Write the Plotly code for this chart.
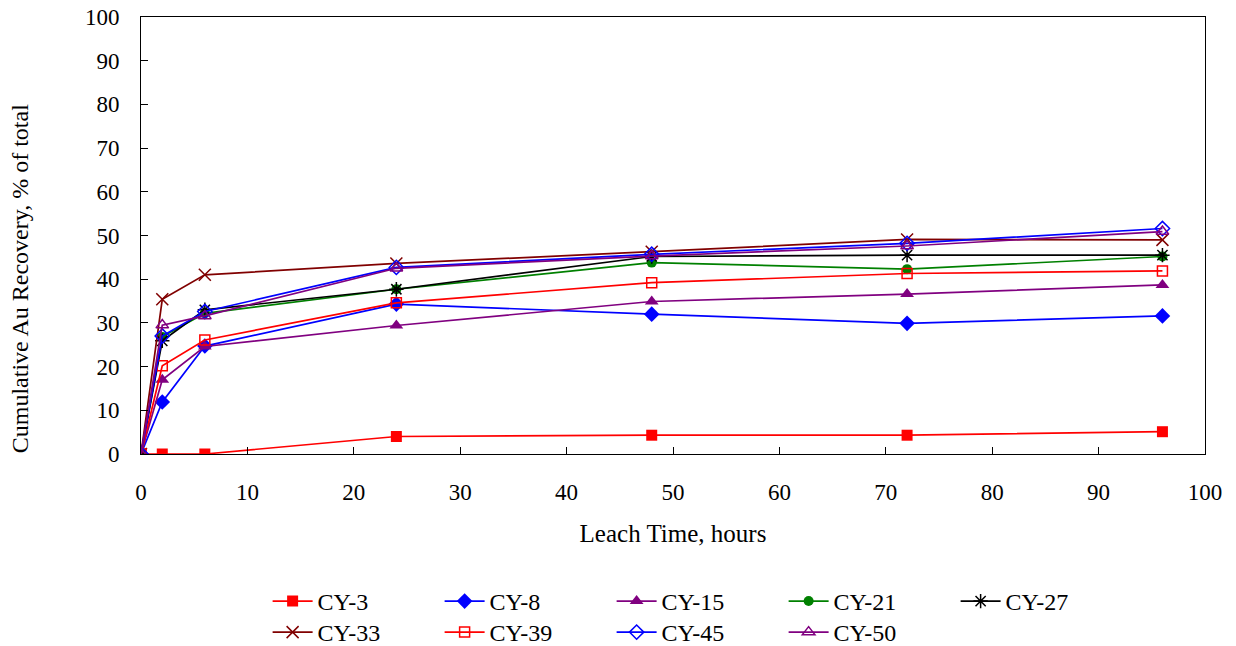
import plotly.graph_objects as go

hours = [0, 2, 6, 24, 48, 72, 96]
cy3 = [0, 0, 0, 4.0, 4.3, 4.3, 5.1]
cy8 = [0, 11.9, 24.7, 34.3, 32.0, 29.9, 31.6]
cy15 = [0, 17.0, 24.6, 29.4, 34.9, 36.6, 38.7]
cy21 = [0, 26.8, 32.2, 37.7, 43.8, 42.3, 45.2]
cy27 = [0, 25.9, 33.0, 37.7, 45.2, 45.5, 45.5]
cy33 = [0, 35.4, 41.0, 43.6, 46.3, 49.1, 49.0]
cy39 = [0, 20.2, 26.1, 34.6, 39.2, 41.3, 41.9]
cy45 = [0, 27.0, 32.6, 42.7, 45.7, 48.2, 51.6]
cy50 = [0, 29.5, 31.6, 42.5, 45.3, 47.6, 50.9]

series = [
    ("CY-3", cy3, "#FF0000", "square", 11, None, "legend"),
    ("CY-8", cy8, "#0000FF", "diamond", 12, None, "legend"),
    ("CY-15", cy15, "#800080", "triangle-up", 12, None, "legend"),
    ("CY-21", cy21, "#008000", "circle", 10, None, "legend"),
    ("CY-27", cy27, "#000000", "asterisk-open", 12, 1.5, "legend"),
    ("CY-33", cy33, "#800000", "x-thin-open", 12, 1.5, "legend2"),
    ("CY-39", cy39, "#FF0000", "square-open", 10, 1.5, "legend2"),
    ("CY-45", cy45, "#0000FF", "diamond-open", 11, 1.5, "legend2"),
    ("CY-50", cy50, "#800080", "triangle-up-open", 11, 1.5, "legend2"),
]

fig = go.Figure()
for name, ys, color, sym, size, lw, leg in series:
    marker = dict(symbol=sym, size=size, color=color)
    if lw:
        marker["line"] = dict(color=color, width=lw)
    fig.add_trace(go.Scatter(
        x=hours, y=ys, name=name, mode="lines+markers", legend=leg,
        line=dict(color=color, width=1.7), marker=marker,
    ))

serif = "Liberation Serif, Times New Roman, serif"
legend_common = dict(
    orientation="h", x=0.119, xanchor="left", yanchor="top",
    entrywidth=117, entrywidthmode="pixels",
    font=dict(family=serif, size=24, color="black"),
    traceorder="normal", itemwidth=40, bgcolor="rgba(0,0,0,0)",
)

fig.update_layout(
    width=1236, height=646,
    margin=dict(l=141, r=31, t=17, b=192, autoexpand=False),
    paper_bgcolor="white", plot_bgcolor="white",
    font=dict(family=serif, size=22, color="black"),
    showlegend=True,
    legend=dict(legend_common, y=-0.286),
    legend2=dict(legend_common, y=-0.357),
    annotations=[dict(
        text="Cumulative Au Recovery, % of total", textangle=-90,
        xref="paper", yref="paper", x=-0.1137, y=0.40,
        xanchor="center", yanchor="middle", showarrow=False,
        font=dict(family=serif, size=24, color="black"),
    )],
)
fig.update_xaxes(
    range=[0, 100], dtick=10, tick0=0,
    showline=True, mirror=True, linecolor="black", linewidth=1,
    ticks="inside", ticklen=7, tickcolor="black",
    showgrid=False, zeroline=False,
    tickfont=dict(family=serif, size=23),
    title=dict(text="Leach Time, hours", standoff=20, font=dict(family=serif, size=25)),
    ticklabelstandoff=17,
)
fig.update_yaxes(
    range=[0, 100], dtick=10, tick0=0,
    showline=True, mirror=True, linecolor="black", linewidth=1,
    ticks="inside", ticklen=7, tickcolor="black",
    showgrid=False, zeroline=False,
    tickfont=dict(family=serif, size=23),
    ticklabelstandoff=16,
)

fig.write_html("out.html")
